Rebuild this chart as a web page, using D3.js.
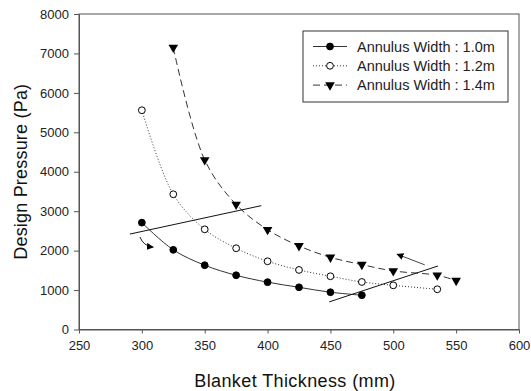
<!DOCTYPE html>
<html>
<head>
<meta charset="utf-8">
<script src="https://cdn.jsdelivr.net/npm/d3@7"></script>
<style>
  body { margin: 0; background: #fff; }
  svg { display: block; font-family: Arial, "Liberation Sans", sans-serif; }
</style>
</head>
<body>
<div id="chart"></div>
<script>
// chart data
var thick10 = [300, 325, 350, 375, 400, 425, 450, 475];
var press10 = [2710, 2020, 1630, 1375, 1200, 1070, 945, 870];

var thick12 = [300, 325, 350, 375, 400, 425, 450, 475, 500, 535];
var press12 = [5560, 3430, 2540, 2060, 1730, 1510, 1350, 1205, 1120, 1020];

var thick14 = [325, 350, 375, 400, 425, 450, 475, 500, 535, 550];
var press14 = [7150, 4300, 3170, 2530, 2120, 1830, 1645, 1485, 1375, 1240];

var seriesNames = ["Annulus Width : 1.0m", "Annulus Width : 1.2m", "Annulus Width : 1.4m"];

var xTicks = [250, 300, 350, 400, 450, 500, 550, 600];
var yTicks = [0, 1000, 2000, 3000, 4000, 5000, 6000, 7000, 8000];

// hand drawn annotation strokes, in data units (mm, Pa)
var noteLines = [
  [[290.5, 2420], [395, 3140]],
  [[449, 700], [535.5, 1610]]
];
var noteArrow = [[525, 1640], [503, 1910]];
var noteCurve = [[298.5, 2345], [301, 2120], [309, 2090]];

var W = 531, H = 391;
var margin = {left: 79, right: 12, top: 14, bottom: 61.5};

var svg = d3.select("#chart").append("svg")
  .attr("width", W)
  .attr("height", H);

var defs = svg.append("defs");
defs.append("marker")
  .attr("id", "head")
  .attr("viewBox", "0 0 10 10")
  .attr("refX", 9).attr("refY", 5)
  .attr("markerWidth", 7).attr("markerHeight", 7)
  .attr("markerUnits", "userSpaceOnUse")
  .attr("orient", "auto")
  .append("path")
  .attr("d", "M0,0 L10,5 L0,10 z")
  .attr("fill", "#000");

var x = d3.scaleLinear().domain([250, 600]).range([margin.left, W - margin.right]);
var y = d3.scaleLinear().domain([0, 8000]).range([H - margin.bottom, margin.top]);

// frame
svg.append("rect")
  .attr("x", x(250)).attr("y", y(8000))
  .attr("width", x(600) - x(250))
  .attr("height", y(0) - y(8000))
  .attr("fill", "none")
  .attr("stroke", "#555")
  .attr("stroke-width", 1);

var xAxis = svg.append("g")
  .attr("transform", "translate(0," + y(0) + ")")
  .call(d3.axisBottom(x).tickValues(xTicks).tickFormat(d3.format("d"))
    .tickSizeInner(4).tickSizeOuter(0).tickPadding(7));
var yAxis = svg.append("g")
  .attr("transform", "translate(" + x(250) + ",0)")
  .call(d3.axisLeft(y).tickValues(yTicks).tickFormat(d3.format("d"))
    .tickSizeInner(5).tickSizeOuter(0).tickPadding(5));

[xAxis, yAxis].forEach(function(g) {
  g.select(".domain").attr("stroke", "#555");
  g.selectAll(".tick line").attr("stroke", "#555");
  g.selectAll(".tick text").attr("fill", "#222").style("font-size", "13px");
});

svg.append("text")
  .attr("x", (x(250) + x(600)) / 2 - 4)
  .attr("y", 387)
  .attr("text-anchor", "middle")
  .style("font-size", "18px")
  .style("letter-spacing", "0.4px")
  .attr("fill", "#111")
  .text("Blanket Thickness (mm)");

svg.append("text")
  .attr("transform", "translate(27," + ((y(0) + y(8000)) / 2) + ") rotate(-90)")
  .attr("text-anchor", "middle")
  .style("font-size", "18px")
  .style("letter-spacing", "0.2px")
  .attr("fill", "#111")
  .text("Design Pressure (Pa)");

function pairs(xs, ys) {
  return xs.map(function(v, i) { return [v, ys[i]]; });
}

var series = [
  {pts: pairs(thick10, press10), dash: null, sym: "filled"},
  {pts: pairs(thick12, press12), dash: "1,2", sym: "open"},
  {pts: pairs(thick14, press14), dash: "7,4", sym: "tri"}
];

var line = d3.line()
  .x(function(d) { return x(d[0]); })
  .y(function(d) { return y(d[1]); })
  .curve(d3.curveCatmullRom.alpha(0.5));

var triangle = d3.symbol().type(d3.symbolTriangle).size(40);

function drawSymbol(g, sym, cx, cy) {
  if (sym == "tri") {
    g.append("path")
      .attr("d", triangle())
      .attr("transform", "translate(" + cx + "," + cy + ") rotate(180)")
      .attr("fill", "#000");
  } else {
    g.append("circle")
      .attr("cx", cx).attr("cy", cy).attr("r", 3.4)
      .attr("fill", sym == "filled" ? "#000" : "#fff")
      .attr("stroke", "#000")
      .attr("stroke-width", 1);
  }
}

series.forEach(function(s) {
  svg.append("path")
    .attr("d", line(s.pts))
    .attr("fill", "none")
    .attr("stroke", "#333")
    .attr("stroke-width", 1)
    .attr("stroke-dasharray", s.dash);
  var g = svg.append("g");
  s.pts.forEach(function(p) { drawSymbol(g, s.sym, x(p[0]), y(p[1])); });
});

// annotations
noteLines.forEach(function(l) {
  svg.append("line")
    .attr("x1", x(l[0][0])).attr("y1", y(l[0][1]))
    .attr("x2", x(l[1][0])).attr("y2", y(l[1][1]))
    .attr("stroke", "#111").attr("stroke-width", 1);
});
svg.append("line")
  .attr("x1", x(noteArrow[0][0])).attr("y1", y(noteArrow[0][1]))
  .attr("x2", x(noteArrow[1][0])).attr("y2", y(noteArrow[1][1]))
  .attr("stroke", "#444").attr("stroke-width", 1)
  .attr("marker-end", "url(#head)");
var cp = d3.path();
cp.moveTo(x(noteCurve[0][0]), y(noteCurve[0][1]));
cp.quadraticCurveTo(x(noteCurve[1][0]), y(noteCurve[1][1]), x(noteCurve[2][0]), y(noteCurve[2][1]));
svg.append("path")
  .attr("d", cp.toString())
  .attr("fill", "none")
  .attr("stroke", "#222").attr("stroke-width", 1)
  .attr("marker-end", "url(#head)");

// legend
var lg = svg.append("g").attr("transform", "translate(303,31)");
lg.append("rect")
  .attr("width", 205).attr("height", 71)
  .attr("fill", "#fff")
  .attr("stroke", "#333").attr("stroke-width", 1);
series.forEach(function(s, i) {
  var ry = 15.5 + i * 19.3;
  lg.append("line")
    .attr("x1", 10).attr("x2", 44)
    .attr("y1", ry).attr("y2", ry)
    .attr("stroke", "#333").attr("stroke-width", 1)
    .attr("stroke-dasharray", s.dash);
  drawSymbol(lg, s.sym, 27, ry);
  lg.append("text")
    .attr("x", 54).attr("y", ry + 5)
    .style("font-size", "14.5px")
    .attr("fill", "#222")
    .text(seriesNames[i]);
});
</script>
</body>
</html>
